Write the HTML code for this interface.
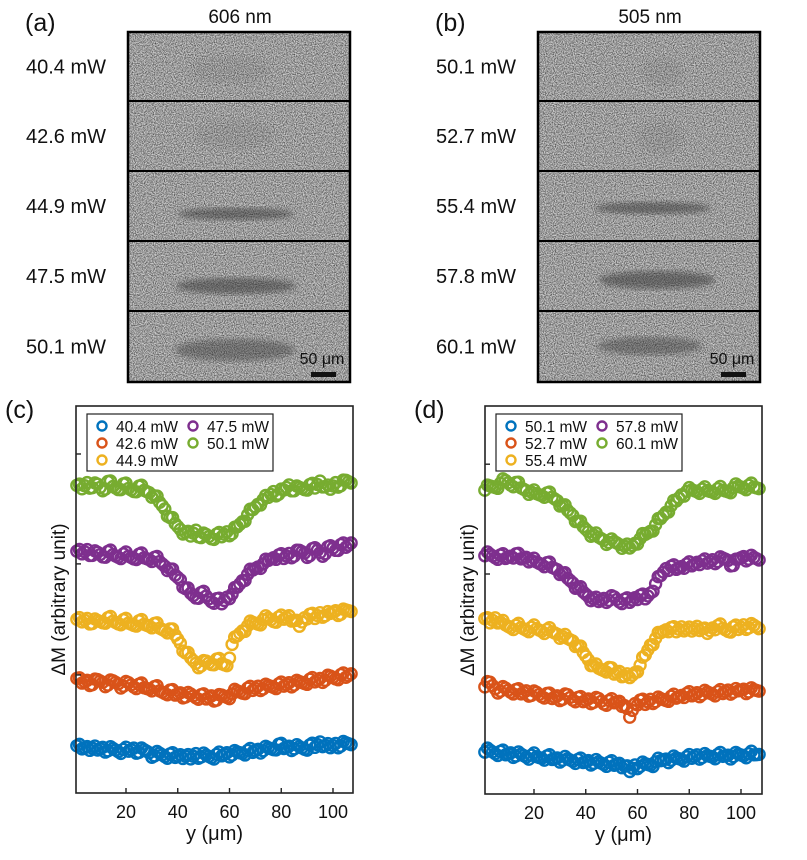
<!DOCTYPE html>
<html><head><meta charset="utf-8">
<style>
body{margin:0;background:#fff;width:807px;height:855px;overflow:hidden;font-family:"Liberation Sans",Arial,sans-serif;}
svg text{font-family:"Liberation Sans",Arial,sans-serif;fill:#111;}
</style></head><body>
<svg id="fig" width="807" height="855" viewBox="0 0 807 855" xmlns="http://www.w3.org/2000/svg">
<defs>
<filter id="noise" x="0" y="0" width="100%" height="100%">
<feTurbulence type="fractalNoise" baseFrequency="0.9" numOctaves="2" seed="3" result="t"/>
<feColorMatrix type="matrix" values="0 0 0 0 0  0 0 0 0 0  0 0 0 0 0  0 0 0 1.3 -0.4" in="t" result="a"/>
<feComposite in="SourceGraphic" in2="a" operator="in" result="n"/>
</filter>
<filter id="blur"><feGaussianBlur stdDeviation="3"/></filter>
</defs>
<g id="images"></g>
<g id="charts"></g>
</svg>
<script>
// ---------- chart data ----------
const xs=[1,3,5,7,9,11,13,15,17,19,21,23,25,27,29,31,33,35,37,39,41,43,45,47,49,51,53,55,57,59,61,63,65,67,69,71,73,75,77,79,81,83,85,87,89,91,93,95,97,99,101,103,105,107];
const xTicks=[20,40,60,80,100];
const colors=["#0072bd","#d95319","#edb120","#7e2f8e","#77ac30"];
const labelsC=["40.4 mW","42.6 mW","44.9 mW","47.5 mW","50.1 mW"];
const labelsD=["50.1 mW","52.7 mW","55.4 mW","57.8 mW","60.1 mW"];
const cB=[12.2,11.4,12.0,11.6,11.1,11.8,10.9,11.5,10.7,11.3,10.8,11.6,10.5,11.2,10.4,9.6,10.3,9.4,10.1,9.2,9.9,9.5,8.8,10.2,9.3,9.8,9.1,10.0,9.6,10.4,9.8,10.6,10.2,11.0,10.5,11.3,10.9,11.7,11.2,12.6,11.5,12.1,11.4,12.0,11.3,12.4,11.8,13.2,12.3,11.7,12.8,12.1,13.0,12.5];
const cO=[29.6,28.4,29.1,28.0,29.3,28.6,27.9,29.0,28.2,27.6,28.5,27.4,28.1,27.2,26.8,27.5,26.4,25.7,26.6,25.3,25.9,24.8,25.6,24.6,25.4,24.3,25.1,24.0,25.3,24.7,25.6,26.4,25.8,27.1,26.5,27.6,26.9,27.8,27.3,28.2,27.6,28.5,27.9,28.8,28.3,29.4,28.7,29.6,29.1,30.2,29.5,30.6,29.9,30.8];
const cY=[44.9,44.2,45.1,43.8,44.6,44.0,45.3,44.4,43.7,44.8,43.9,43.3,44.5,43.6,43.1,43.8,42.6,41.9,42.4,40.8,38.7,36.2,34.9,33.5,32.8,34.1,33.2,34.6,33.4,32.9,38.4,40.6,41.9,43.2,44.1,43.6,44.8,45.2,44.3,45.5,44.9,45.8,44.6,43.1,45.3,46.2,45.1,46.6,45.8,46.4,47.1,46.2,47.3,46.9];
const cP=[62.5,61.8,62.9,61.4,62.2,61.0,62.4,61.6,60.9,61.8,61.2,60.5,61.7,60.8,60.3,60.9,59.8,58.6,57.9,56.3,55.1,52.8,51.6,50.4,51.8,50.9,49.4,50.2,48.9,50.6,51.4,53.2,54.9,56.5,57.6,58.4,59.2,60.1,60.8,61.5,60.6,61.9,61.2,62.7,62.0,61.3,63.4,62.1,61.8,63.9,62.7,64.2,63.5,64.6];
const cG=[79.5,78.6,80.2,78.9,79.8,78.1,80.5,79.2,78.4,79.9,78.7,77.9,79.3,78.2,77.6,76.8,75.1,73.4,71.2,69.6,68.1,67.3,66.4,67.9,66.0,66.8,65.7,66.9,66.2,67.5,67.0,68.8,70.1,71.9,73.2,74.6,75.8,76.4,77.9,77.2,78.3,79.6,78.1,79.0,78.4,79.7,78.8,80.6,79.1,78.5,80.2,79.4,80.8,80.1];
const dB=[10.8,11.3,10.4,11.0,10.1,10.6,9.8,10.3,9.5,10.0,9.6,9.2,9.8,8.9,9.3,8.7,9.1,8.4,8.9,8.1,8.6,7.9,8.3,7.6,8.2,7.4,7.9,7.2,5.8,7.5,7.1,7.8,7.4,8.3,8.6,9.0,8.7,9.3,8.9,9.6,9.2,10.1,9.4,9.9,9.5,10.2,9.7,10.0,9.6,10.3,9.8,10.4,10.1,10.2];
const dO=[27.6,28.8,27.1,26.5,27.3,26.2,26.9,25.8,26.6,25.4,26.2,25.1,25.9,24.6,25.3,24.4,25.6,24.2,24.9,23.8,24.5,23.6,24.6,23.2,24.1,23.5,23.9,22.8,19.8,23.3,24.2,23.1,24.4,23.8,24.6,24.1,25.2,24.7,25.4,25.9,25.3,26.1,25.6,26.3,25.7,26.4,25.9,26.8,26.2,26.6,27.0,26.3,26.9,26.5];
const dY=[45.2,44.1,45.4,44.3,43.6,42.8,43.5,42.9,42.2,43.0,42.6,41.9,42.4,41.8,41.2,40.6,40.1,39.4,38.2,36.5,34.6,33.1,32.4,31.8,32.6,30.9,31.6,30.4,30.0,31.3,33.2,35.8,38.4,40.1,41.6,42.3,42.9,41.8,43.1,42.5,42.0,43.2,42.6,41.4,42.8,43.4,42.7,41.9,43.1,42.4,43.6,42.8,43.5,42.6];
const dP=[61.4,61.8,60.9,61.6,60.7,61.3,61.9,60.6,61.0,60.2,59.8,59.1,59.6,58.4,57.8,56.9,55.6,54.4,53.2,52.1,50.9,50.3,49.6,50.4,49.9,50.8,49.5,50.2,49.4,50.6,51.2,50.3,51.8,54.2,56.3,58.1,58.7,57.9,58.6,59.3,58.8,59.7,60.1,59.5,60.4,59.9,60.8,60.2,58.9,60.6,61.2,60.5,61.0,60.3];
const dG=[78.3,79.4,79.0,80.1,80.8,79.6,80.3,78.9,78.2,77.8,77.4,76.9,77.6,76.5,75.6,74.4,73.1,71.8,70.2,68.9,67.6,66.8,66.2,65.4,64.8,65.1,64.3,63.9,63.4,64.6,65.8,66.9,67.7,69.4,71.0,72.6,74.3,75.5,77.1,78.0,78.4,77.9,78.6,78.2,77.8,78.7,78.3,77.9,78.9,79.4,78.8,79.6,79.1,78.7];

const NS="http://www.w3.org/2000/svg";
function mk(tag,attrs,parent){const e=document.createElementNS(NS,tag);for(const k in attrs)e.setAttribute(k,attrs[k]);if(parent)parent.appendChild(e);return e;}
const svg=document.getElementById('fig');
const imgs=document.getElementById('images');
const charts=document.getElementById('charts');

function txt(x,y,s,size,anchor,name,parent){const t=mk('text',{x:x,y:y,'font-size':size,'text-anchor':anchor||'start'},parent||svg);t.textContent=s;


return t;}

// ---------- image panels ----------
function panel(x0,title,tx,labels,stripes,blobs,idx){
  const g=mk('g',{},imgs);
  
  
  txt(x0-103,31,'('+idx+')',25,'start','panel-label-'+idx,g);
  txt(tx,23,title,19,'middle','wavelength-title-'+idx,g);
  const W=222,top=32,rows=[32,101,171,241,311,382];
  const lx=x0-102;
  for(let i=0;i<5;i++){
    const y0=rows[i],h=rows[i+1]-rows[i];
    mk('rect',{x:x0,y:y0,width:W,height:h,fill:'#cfcfcf'},g);
    mk('rect',{x:x0,y:y0,width:W,height:h,fill:'#000',filter:'url(#noise)'},g);
    txt(lx,(y0+y0+h)/2+7,labels[i],20,'start','power-label-'+idx+'-'+(i+1),g);
  }
  for(const s of stripes){mk('ellipse',{cx:s[0],cy:s[1],rx:s[2],ry:s[3],fill:'#333','fill-opacity':s[4],filter:'url(#blur)'},g);}
  for(const s of blobs){mk('ellipse',{cx:s[0],cy:s[1],rx:s[2],ry:s[3],fill:'#444','fill-opacity':0.1,filter:'url(#blur)'},g);}
  for(let i=1;i<5;i++) mk('line',{x1:x0,x2:x0+W,y1:rows[i],y2:rows[i],stroke:'#000','stroke-width':2},g);
  mk('rect',{x:x0,y:top,width:W,height:382-top,fill:'none',stroke:'#000','stroke-width':2.5},g);
  txt(x0+194,364,'50 μm',16,'middle','scale-bar-label-'+idx,g);
  const sb=mk('rect',{x:x0+183,y:372,width:25,height:5,fill:'#111'},g);
  
  
}
panel(128,'606 nm',240,["40.4 mW","42.6 mW","44.9 mW","47.5 mW","50.1 mW"],
 [[236,214,58,6,0.5],[236,286,60,8,0.5],[235,350,60,11,0.4]],[[230,70,40,14],[235,135,40,14]],'a');
panel(538,'505 nm',650,["50.1 mW","52.7 mW","55.4 mW","57.8 mW","60.1 mW"],
 [[653,208,58,6,0.5],[657,280,58,9,0.5],[650,346,52,9,0.4]],[[662,72,20,14],[660,138,22,16]],'b');

// ---------- scatter charts ----------
function chart(opt){
  const {L,R,T,B,x20,x100,series,labels,idx,yTicks}=opt;
  const g=mk('g',{},charts);
  
  
  const sx=v=>x20+(v-20)*(x100-x20)/80;
  const sy=v=>B-v*(B-T)/100;
  txt(L-71,418,'('+idx+')',25,'start','panel-label-'+idx,g);
  series.forEach((arr,si)=>{
    const sg=mk('g',{},g);
    
    
    const n=Math.min(xs.length,arr.length);
    for(let i=0;i<n;i++){
      const c=mk('circle',{cx:sx(xs[i]),cy:sy(arr[i]),r:5.5,fill:'none',stroke:colors[si],'stroke-width':2.4},sg);
      
      
    }
    for(let i=0;i<n-1;i++){
      const c=mk('circle',{cx:(sx(xs[i])+sx(xs[i+1]))/2,cy:(sy(arr[i])+sy(arr[i+1]))/2+((i%3)-1)*3,r:5.5,fill:'none',stroke:colors[si],'stroke-width':2.4},sg);
      
      
    }
  });
  const ax=mk('rect',{x:L,y:T,width:R-L,height:B-T,fill:'none',stroke:'#222','stroke-width':1.6},g);
  
  
  xTicks.forEach(v=>{
    mk('line',{x1:sx(v),x2:sx(v),y1:B,y2:B-5,stroke:'#222','stroke-width':1.4},g);
    txt(sx(v),B+25,String(v),18,'middle','x-tick-'+v,g);
  });
  yTicks.forEach(v=>{
    mk('line',{x1:L,x2:L+5,y1:sy(v),y2:sy(v),stroke:'#222','stroke-width':1.4},g);
  });
  txt((L+R)/2,B+47,'y (μm)',20,'middle','x-axis-title',g);
  const yt=txt(0,0,'ΔM (arbitrary unit)',19,'middle','y-axis-title',g);
  yt.setAttribute('transform','translate('+(L-11)+','+((T+B)/2)+') rotate(-90)');
  const lg=mk('g',{},g);
  
  
  const lx=L+11,ly=T+8;
  mk('rect',{x:lx,y:ly,width:186,height:57,fill:'#fff',stroke:'#222','stroke-width':1.2},lg);
  const pos=[[0,0],[0,1],[0,2],[1,0],[1,1]];
  labels.forEach((lab,i)=>{
    const px=lx+15+pos[i][0]*91,py=ly+12+pos[i][1]*17;
    const it=mk('g',{},lg);
    
    
    mk('circle',{cx:px,cy:py,r:4.5,fill:'none',stroke:colors[i],'stroke-width':2.4},it);
    txt(px+14,py+6,lab,15.5,'start','legend-label-'+(i+1),it);
  });
}
chart({L:76,R:353,T:406,B:793,x20:126,x100:333,series:[cB,cO,cY,cP,cG],labels:labelsC,idx:'c',yTicks:[87.6,59.2,30.5]});
chart({L:485,R:762,T:406,B:794,x20:534,x100:741,series:[dB,dO,dY,dP,dG],labels:labelsD,idx:'d',yTicks:[85,56.7]});
</script>
</body></html>
